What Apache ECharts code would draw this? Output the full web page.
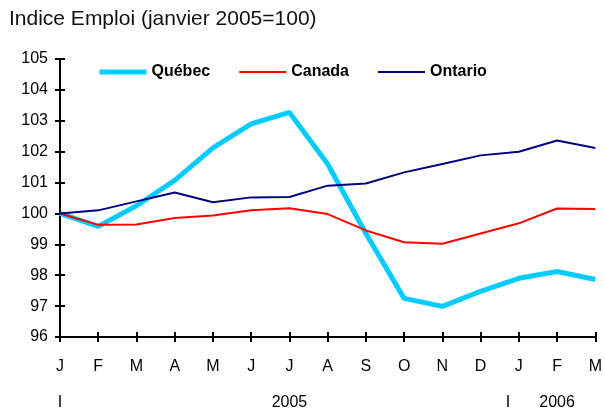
<!DOCTYPE html>
<html>
<head>
<meta charset="utf-8">
<script src="https://cdn.jsdelivr.net/npm/echarts@6/dist/echarts.min.js"></script>
<style>
  html, body { margin: 0; padding: 0; background: #fff; }
  #chart { width: 605px; height: 412px; }
</style>
</head>
<body>
<div id="chart"></div>
<script>
// months from Jan 2005 to Mar 2006
const months = ['J', 'F', 'M', 'A', 'M', 'J', 'J', 'A', 'S', 'O', 'N', 'D', 'J', 'F', 'M'];
const yearLabels = ['I', '', '', '', '', '', '2005', '', '', '', '', '', 'I', '2006', ''];

const quebec = [100, 99.58, 100.25, 101.07, 102.12, 102.9, 103.27, 101.6, 99.35, 97.25, 96.99, 97.48, 97.9, 98.12, 97.86];
const canada = [100, 99.63, 99.64, 99.85, 99.93, 100.1, 100.17, 99.98, 99.45, 99.07, 99.02, 99.35, 99.68, 100.16, 100.14];
const ontario = [100, 100.1, 100.39, 100.68, 100.36, 100.52, 100.53, 100.9, 100.97, 101.33, 101.6, 101.88, 102.0, 102.36, 102.12];

const FONT = '"Liberation Sans", Arial, sans-serif';
const QC_COLOR = '#00CCFF';
const CA_COLOR = '#FF0000';
const ON_COLOR = '#000080';

const chart = echarts.init(document.getElementById('chart'));

const axisLine = { show: true, lineStyle: { color: '#000', width: 2 } };
const tickStyle = { color: '#000', width: 2 };

chart.setOption({
    animation: false,
    textStyle: { fontFamily: FONT },
    title: {
        text: 'Indice Emploi (janvier 2005=100)',
        left: 4,
        top: 4,
        textStyle: { fontFamily: FONT, fontSize: 21, fontWeight: 'normal', color: '#111' }
    },
    legend: {
        left: 92,
        top: 59,
        itemWidth: 47,
        itemHeight: 14,
        itemGap: 28,
        itemStyle: { opacity: 0 },
        textStyle: { fontFamily: FONT, fontSize: 16, fontWeight: 'bold', color: '#000' },
        data: [
            { name: 'Québec', lineStyle: { width: 5 } },
            { name: 'Canada', lineStyle: { width: 2 } },
            { name: 'Ontario', lineStyle: { width: 2 } }
        ]
    },
    grid: { left: 60, right: 9, top: 59, bottom: 75 },
    xAxis: [
        {
            type: 'category',
            data: months,
            boundaryGap: false,
            axisLine: axisLine,
            axisTick: { show: true, inside: false, length: 5, lineStyle: tickStyle },
            axisLabel: { color: '#000', fontSize: 16, fontFamily: FONT, margin: 22, interval: 0 },
            splitLine: { show: false }
        },
        {
            type: 'category',
            data: months,
            boundaryGap: false,
            position: 'bottom',
            axisLine: { show: false },
            axisTick: { show: true, inside: true, length: 5, lineStyle: tickStyle },
            axisLabel: { show: false }
        },
        {
            type: 'category',
            data: yearLabels,
            boundaryGap: false,
            position: 'bottom',
            offset: 36,
            axisLine: { show: false },
            axisTick: { show: false },
            axisLabel: {
                color: '#000', fontSize: 16, fontFamily: FONT, margin: 22, interval: 0,
                formatter: function (v, i) { return i === 12 ? '{s|' + v + '}' : v; },
                rich: { s: { fontSize: 16, fontFamily: FONT, color: '#000', padding: [0, 22, 0, 0] } }
            }
        }
    ],
    yAxis: [
        {
            type: 'value',
            min: 96,
            max: 105,
            interval: 1,
            axisLine: axisLine,
            axisTick: { show: true, inside: false, length: 5, lineStyle: tickStyle },
            axisLabel: { color: '#000', fontSize: 16, fontFamily: FONT, margin: 12 },
            splitLine: { show: false }
        },
        {
            type: 'value',
            min: 96,
            max: 105,
            interval: 1,
            position: 'left',
            axisLine: { show: false },
            axisTick: { show: true, inside: true, length: 5, lineStyle: tickStyle },
            axisLabel: { show: false },
            splitLine: { show: false }
        }
    ],
    series: [
        {
            name: 'Québec',
            type: 'line',
            data: quebec,
            symbol: 'none',
            lineStyle: { color: QC_COLOR, width: 5 },
            itemStyle: { color: QC_COLOR }
        },
        {
            name: 'Canada',
            type: 'line',
            data: canada,
            symbol: 'none',
            lineStyle: { color: CA_COLOR, width: 2 },
            itemStyle: { color: CA_COLOR }
        },
        {
            name: 'Ontario',
            type: 'line',
            data: ontario,
            symbol: 'none',
            lineStyle: { color: ON_COLOR, width: 2 },
            itemStyle: { color: ON_COLOR }
        }
    ]
});
</script>
</body>
</html>
